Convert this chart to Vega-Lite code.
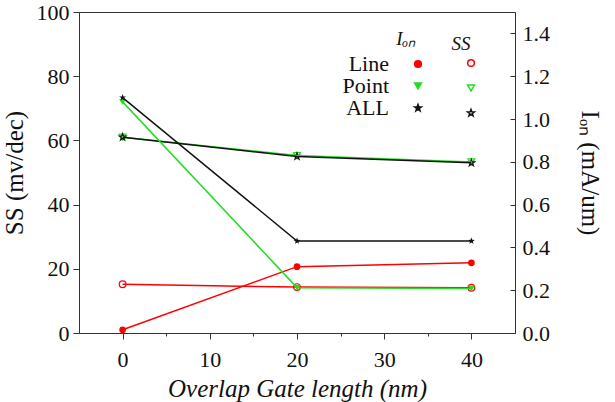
{
  "$schema": "https://vega.github.io/schema/vega-lite/v6.json",
  "autosize": {"type": "none"},
  "padding": {"left": 79, "top": 12, "right": 100, "bottom": 69},
  "width": 436,
  "height": 321,
  "background": "white",
  "datasets": {
    "rows": [
      {"series": "Line", "length": 0, "ss": 15.2, "ion": 0.015},
      {"series": "Line", "length": 20, "ss": 14.3, "ion": 0.31},
      {"series": "Line", "length": 40, "ss": 14.1, "ion": 0.328},
      {"series": "Point", "length": 0, "ss": 61.0, "ion": 1.08},
      {"series": "Point", "length": 20, "ss": 55.3, "ion": 0.212},
      {"series": "Point", "length": 40, "ss": 53.3, "ion": 0.208},
      {"series": "ALL", "length": 0, "ss": 61.0, "ion": 1.10},
      {"series": "ALL", "length": 20, "ss": 55.0, "ion": 0.43},
      {"series": "ALL", "length": 40, "ss": 53.0, "ion": 0.43}
    ]
  },
  "data": {"name": "rows"},
  "layer": [
    {
      "layer": [
        {
          "mark": {"type": "point", "filled": false, "strokeWidth": 1.2, "opacity": 1},
          "encoding": {
            "x": {
              "field": "length", "type": "quantitative",
              "scale": {"domain": [-5, 45], "nice": false, "zero": false},
              "axis": {
                "title": "Overlap Gate length (nm)",
                "titleFontStyle": "italic",
                "titleFontSize": 25,
                "values": [0, 5, 10, 15, 20, 25, 30, 35, 40],
                "labelExpr": "datum.value % 10 === 0 ? datum.label : ''",
                "tickSize": {"condition": {"test": "datum.value % 10 === 0", "value": 6}, "value": 3},
                "labelPadding": 10,
                "titlePadding": 6
              }
            },
            "y": {
              "field": "ss", "type": "quantitative",
              "scale": {"domain": [0, 100], "nice": false},
              "axis": {
                "orient": "left",
                "title": "SS (mv/dec)",
                "titleFontSize": 25,
                "values": [0, 5, 10, 15, 20, 25, 30, 35, 40, 45, 50, 55, 60, 65, 70, 75, 80, 85, 90, 95, 100],
                "labelExpr": "datum.value % 10 === 0 ? datum.label : ''",
                "tickSize": {"condition": {"test": "datum.value % 10 === 0", "value": 6}, "value": 3},
                "labelPadding": 4,
                "titlePadding": 9
              }
            },
            "color": {
              "field": "series", "type": "nominal",
              "scale": {"domain": ["Line", "Point", "ALL"], "range": ["#ff0000", "#22dd22", "#111111"]},
              "legend": {
                "orient": "none", "legendX": 362, "legendY": 23,
                "title": "SS", "titleFontStyle": "italic", "titleFontSize": 19, "titleFontWeight": "normal",
                "titleAnchor": "middle", "titlePadding": 4,
                "labelExpr": "''",
                "symbolOffset": 25, "symbolSize": 100, "rowPadding": 12, "padding": 0,
                "encode": {
                  "symbols": {
                    "shape": {"value": {"expr": "datum.value === 'Line' ? 'M-4.1,0H-1.1M1.1,0H4.1M0.68,0A0.68,0.68,0,1,1,-0.68,0A0.68,0.68,0,1,1,0.68,0Z' : datum.value === 'Point' ? 'M-4.1,0H-1.1M1.1,0H4.1M-0.85,-0.7L0.85,-0.7L0,0.8Z' : 'M-4.1,0H-1.1M1.1,0H4.1M0,-0.95L0.223,-0.307L0.903,-0.294L0.361,0.117L0.559,0.769L0,0.38L-0.559,0.769L-0.361,0.117L-0.903,-0.294L-0.223,-0.307Z'"}},
                    "fill": {"value": "#ffffff"},
                    "stroke": {"value": {"expr": "datum.value === 'Line' ? '#ff0000' : datum.value === 'Point' ? '#22dd22' : '#111111'"}},
                    "strokeWidth": {"value": 1.5},
                    "size": {"value": 100},
                    "opacity": {"value": 1}
                  }
                }
              }
            },
            "shape": {
              "field": "series", "type": "nominal",
              "scale": {"domain": ["Line", "Point", "ALL"], "range": ["circle", "triangle-down", "M0,-1L0.235,-0.324L0.951,-0.309L0.38,0.124L0.588,0.809L0,0.4L-0.588,0.809L-0.38,0.124L-0.951,-0.309L-0.235,-0.324Z"]},
              "legend": null
            },
            "size": {
              "field": "series", "type": "nominal",
              "scale": {"domain": ["Line", "Point", "ALL"], "range": [45, 50, 100]},
              "legend": null
            }
          }
        },
        {
          "mark": {"type": "line", "strokeWidth": 1.5},
          "encoding": {
            "x": {"field": "length", "type": "quantitative"},
            "y": {"field": "ss", "type": "quantitative"},
            "color": {"field": "series", "type": "nominal"}
          }
        }
      ]
    },
    {
      "layer": [
        {
          "mark": {"type": "point", "filled": true, "opacity": 1},
          "encoding": {
            "x": {"field": "length", "type": "quantitative"},
            "y": {
              "field": "ion", "type": "quantitative",
              "scale": {"domain": [0, 1.5], "nice": false},
              "axis": {
                "orient": "right",
                "title": "Iₒₙ (mA/um)",
                "titleFontSize": 25,
                "values": [0, 0.05, 0.1, 0.15, 0.2, 0.25, 0.3, 0.35, 0.4, 0.45, 0.5, 0.55, 0.6, 0.65, 0.7, 0.75, 0.8, 0.85, 0.9, 0.95, 1.0, 1.05, 1.1, 1.15, 1.2, 1.25, 1.3, 1.35, 1.4, 1.45, 1.5],
                "format": ".1f",
                "labelExpr": "abs(datum.value * 5 - round(datum.value * 5)) < 0.001 && datum.value < 1.45 ? datum.label : ''",
                "tickSize": {"condition": {"test": "abs(datum.value * 5 - round(datum.value * 5)) < 0.001", "value": -5}, "value": -3},
                "labelPadding": 12,
                "titlePadding": 27
              }
            },
            "color": {
              "field": "series", "type": "nominal",
              "scale": {"domain": ["Line", "Point", "ALL"], "range": ["#ff0000", "#22dd22", "#111111"]},
              "legend": {
                "orient": "none", "legendX": 308, "legendY": 18,
                "title": "Iₒₙ", "titleFontStyle": "italic", "titleFontSize": 19, "titleFontWeight": "normal",
                "titleAnchor": "middle", "titlePadding": 4,
                "labelAlign": "right", "labelOffset": -40, "labelFontSize": 22, "labelColor": "#111111",
                "symbolOffset": 20, "symbolSize": 100, "rowPadding": 0, "padding": 0,
                "encode": {
                  "symbols": {
                    "shape": {"value": {"expr": "datum.value === 'Line' ? 'M-4.1,0H-1.1M1.1,0H4.1M0.68,0A0.68,0.68,0,1,1,-0.68,0A0.68,0.68,0,1,1,0.68,0Z' : datum.value === 'Point' ? 'M-4.1,0H-1.1M1.1,0H4.1M-0.85,-0.7L0.85,-0.7L0,0.8Z' : 'M-4.1,0H-1.1M1.1,0H4.1M0,-0.95L0.223,-0.307L0.903,-0.294L0.361,0.117L0.559,0.769L0,0.38L-0.559,0.769L-0.361,0.117L-0.903,-0.294L-0.223,-0.307Z'"}},
                    "fill": {"value": {"expr": "datum.value === 'Line' ? '#ff0000' : datum.value === 'Point' ? '#22dd22' : '#111111'"}},
                    "stroke": {"value": {"expr": "datum.value === 'Line' ? '#ff0000' : datum.value === 'Point' ? '#22dd22' : '#111111'"}},
                    "strokeWidth": {"value": 1.5},
                    "size": {"value": 100},
                    "opacity": {"value": 1}
                  }
                }
              }
            },
            "shape": {
              "field": "series", "type": "nominal",
              "scale": {"domain": ["Line", "Point", "ALL"], "range": ["circle", "triangle-down", "M0,-1L0.235,-0.324L0.951,-0.309L0.38,0.124L0.588,0.809L0,0.4L-0.588,0.809L-0.38,0.124L-0.951,-0.309L-0.235,-0.324Z"]},
              "legend": null
            },
            "size": {
              "field": "series", "type": "nominal",
              "scale": {"domain": ["Line", "Point", "ALL"], "range": [45, 50, 100]},
              "legend": null
            }
          }
        },
        {
          "mark": {"type": "line", "strokeWidth": 1.5},
          "encoding": {
            "x": {"field": "length", "type": "quantitative"},
            "y": {"field": "ion", "type": "quantitative"},
            "color": {"field": "series", "type": "nominal"}
          }
        }
      ]
    }
  ],
  "resolve": {"scale": {"y": "independent", "color": "independent", "shape": "independent", "size": "independent"}},
  "config": {
    "font": "Liberation Serif",
    "view": {"stroke": "#333333", "strokeWidth": 1},
    "axis": {
      "grid": false,
      "labelOverlap": false,
      "domainColor": "#333333",
      "tickColor": "#333333",
      "labelColor": "#111111",
      "titleColor": "#111111",
      "labelFont": "Liberation Serif",
      "titleFont": "Liberation Serif",
      "labelFontSize": 22,
      "titleFontWeight": "normal"
    },
    "legend": {
      "labelFont": "Liberation Serif",
      "titleFont": "Liberation Serif",
      "titleColor": "#111111"
    }
  }
}
